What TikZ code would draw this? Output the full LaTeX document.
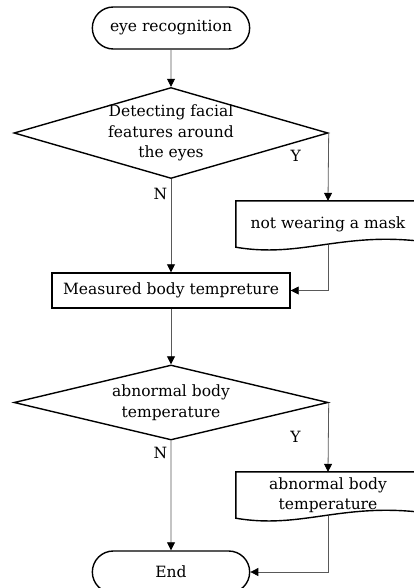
\documentclass[tikz,border=0pt]{standalone}
\usepackage{fontspec}
\setmainfont{DejaVu Serif}
\usetikzlibrary{arrows.meta}
\usetikzlibrary{shapes.geometric, shapes.misc}

\begin{document}
\begin{tikzpicture}[x=1pt, y=-1pt, font=\fontsize{15.5}{20.5}\selectfont,
	outline/.style={draw, line width=1.4pt},
	terminal/.style={outline, rounded rectangle, minimum width=164pt, minimum height=42pt},
	decision/.style={outline, diamond, shape aspect=3.4, minimum width=314pt, inner sep=-20pt, align=center},
	process/.style={outline, rectangle, minimum width=238pt, minimum height=35pt},
	doc/.style={minimum width=184pt, minimum height=46pt, align=center},
	flow/.style={draw=black!65, line width=0.8pt, -{Triangle[color=black, length=8pt, width=8pt]}},
	]
	\useasboundingbox (0,0) rectangle (414,588);

	\node[terminal] (start) at (171, 28) {eye recognition};
	\node[decision, minimum height=91pt] (face) at (171, 133) {Detecting facial\\features around\\the eyes};
	\node[doc] (mask) at (328, 224) {not wearing a mask};
	\node[process] (measure) at (171, 290.5) {Measured body tempreture};
	\node[decision, minimum height=75pt] (temp) at (171, 402.5) {abnormal body\\temperature};
	\node[doc] (alarm) at (328, 495) {abnormal body\\temperature};
	\node[terminal] (stop) at (171, 572) {End};

	\foreach \d in {mask, alarm}
		\draw[outline] (\d.south west) .. controls +(64,11) and +(-80,-9) .. ([yshift=6pt]\d.south east)
			-- (\d.north east) -- (\d.north west) -- cycle;

	\draw[flow] (start) -- (face);
	\draw[flow] (face) -- node[pos=0.16, left]{N} (measure);
	\draw[flow] (face.east) -- node[pos=0.34, left=24pt]{Y} (mask.north);
	\draw[flow] ([yshift=2.5pt]mask.south) |- (measure.east);
	\draw[flow] (measure) -- (temp);
	\draw[flow] (temp) -- node[pos=0.11, left]{N} (stop);
	\draw[flow] (temp.east) -- node[pos=0.49, left=24pt]{Y} (alarm.north);
	\draw[flow] ([yshift=2.5pt]alarm.south) |- (stop.east);
\end{tikzpicture}
\end{document}
